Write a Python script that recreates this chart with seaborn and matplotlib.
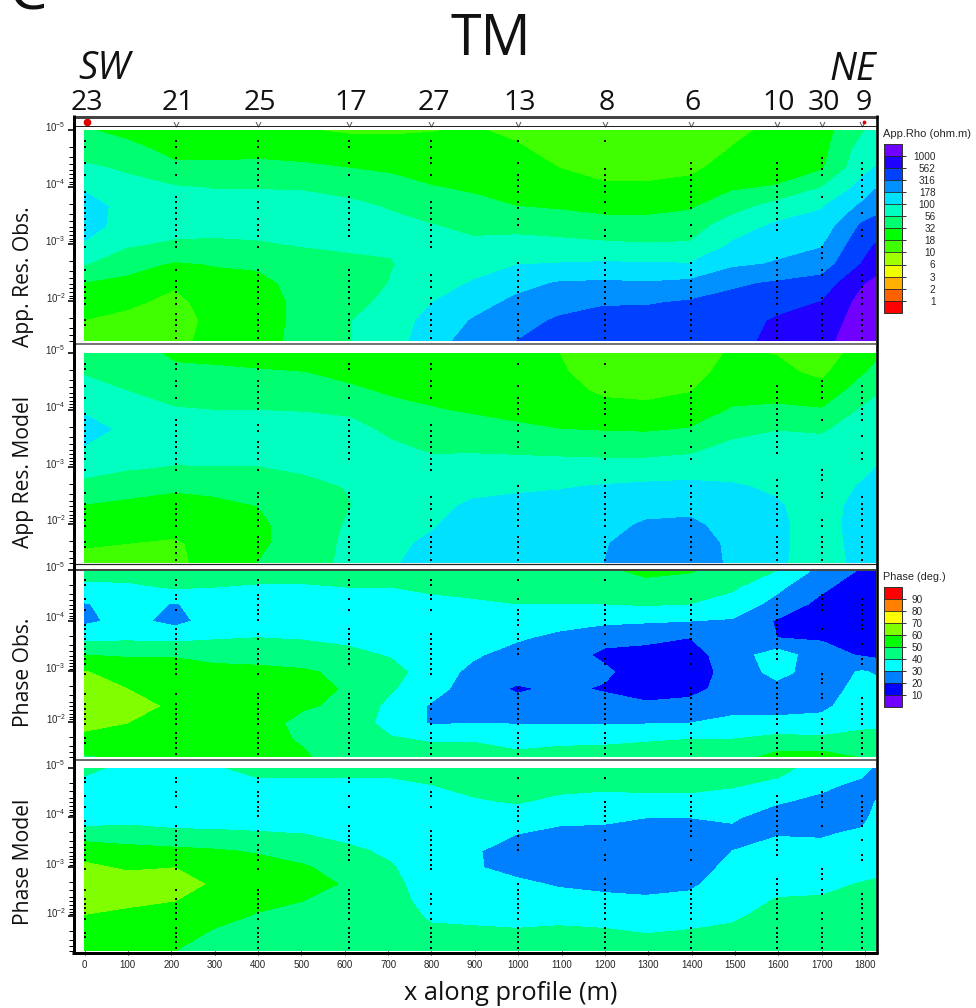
import numpy as np
import pandas as pd
import matplotlib
matplotlib.use("Agg")
import matplotlib.pyplot as plt
import seaborn as sns
from matplotlib.lines import Line2D
from matplotlib.path import Path
from matplotlib.transforms import ScaledTranslation

# ---------- data ----------
PROFILE_X = [0, 98, 209, 299, 400, 506, 610, 707, 801, 896, 997, 1094, 1198, 1295, 1396, 1493, 1597, 1700, 1793, 1823]
LOG_PERIOD = [-5, -4.66, -4.33, -3.99, -3.66, -3.32, -2.98, -2.65, -2.31, -1.97, -1.65, -1.3]

# log10(apparent resistivity), one list per PROFILE_X column
rho_obs = [
 [1.52,1.65,1.79,1.97,2.1,2.1,1.97,1.76,1.48,1.37,1.24,1.15],
 [1.42,1.58,1.72,1.82,1.92,1.9,1.77,1.59,1.43,1.28,1.2,1.12],
 [1.3,1.42,1.55,1.77,1.87,1.85,1.7,1.47,1.27,1.2,1.17,1.2],
 [1.3,1.42,1.55,1.74,1.85,1.84,1.69,1.51,1.42,1.33,1.3,1.31],
 [1.3,1.42,1.57,1.74,1.84,1.83,1.72,1.54,1.42,1.4,1.42,1.44],
 [1.26,1.38,1.55,1.73,1.84,1.83,1.76,1.65,1.6,1.56,1.55,1.55],
 [1.22,1.36,1.5,1.68,1.8,1.85,1.78,1.7,1.62,1.64,1.74,1.74],
 [1.22,1.34,1.46,1.6,1.73,1.81,1.77,1.74,1.76,1.84,1.88,1.9],
 [1.24,1.32,1.41,1.51,1.62,1.76,1.81,1.83,1.9,2.0,2.08,2.12],
 [1.27,1.33,1.4,1.47,1.56,1.69,1.8,1.9,2.02,2.15,2.27,2.38],
 [1.2,1.28,1.33,1.42,1.5,1.68,1.83,1.99,2.17,2.31,2.42,2.5],
 [1.12,1.17,1.25,1.36,1.47,1.64,1.82,2.01,2.27,2.42,2.53,2.6],
 [1.08,1.12,1.18,1.28,1.42,1.6,1.79,2.03,2.29,2.48,2.59,2.68],
 [1.08,1.12,1.18,1.28,1.42,1.59,1.77,2.02,2.27,2.48,2.6,2.68],
 [1.1,1.14,1.21,1.31,1.47,1.62,1.78,2.01,2.31,2.53,2.62,2.68],
 [1.2,1.26,1.33,1.47,1.64,1.88,2.03,2.2,2.46,2.58,2.64,2.66],
 [1.3,1.33,1.38,1.52,1.85,2.04,2.17,2.27,2.53,2.67,2.78,2.82],
 [1.4,1.42,1.47,1.75,1.98,2.1,2.23,2.37,2.6,2.76,2.85,2.92],
 [1.72,1.85,1.93,2.08,2.3,2.54,2.67,2.76,2.98,3.08,3.12,3.15],
 [1.8,1.9,2.01,2.23,2.4,2.6,2.76,2.88,3.05,3.15,3.2,3.2],
]
rho_model = [
 [1.57,1.73,1.84,1.97,2.1,1.98,1.83,1.68,1.48,1.37,1.27,1.18],
 [1.62,1.69,1.75,1.88,1.94,1.87,1.77,1.6,1.44,1.33,1.25,1.17],
 [1.45,1.55,1.65,1.77,1.85,1.85,1.73,1.54,1.4,1.3,1.23,1.22],
 [1.43,1.54,1.64,1.75,1.85,1.84,1.74,1.56,1.44,1.37,1.31,1.3],
 [1.4,1.52,1.63,1.75,1.84,1.83,1.74,1.6,1.5,1.47,1.48,1.5],
 [1.36,1.5,1.62,1.74,1.84,1.84,1.78,1.69,1.63,1.57,1.55,1.55],
 [1.32,1.42,1.55,1.71,1.82,1.84,1.8,1.76,1.74,1.78,1.82,1.85],
 [1.3,1.37,1.46,1.59,1.7,1.79,1.83,1.84,1.87,1.91,1.95,1.97],
 [1.28,1.33,1.41,1.52,1.62,1.72,1.82,1.87,1.92,1.98,2.04,2.1],
 [1.27,1.32,1.38,1.47,1.6,1.72,1.83,1.91,2.05,2.1,2.15,2.18],
 [1.27,1.3,1.35,1.41,1.55,1.7,1.84,1.96,2.07,2.14,2.18,2.2],
 [1.25,1.28,1.33,1.39,1.5,1.68,1.84,1.98,2.09,2.17,2.22,2.24],
 [1.1,1.14,1.21,1.33,1.48,1.67,1.83,2.02,2.11,2.18,2.23,2.25],
 [1.05,1.09,1.18,1.32,1.47,1.66,1.84,2.05,2.17,2.28,2.37,2.4],
 [1.12,1.16,1.24,1.36,1.51,1.69,1.88,2.06,2.18,2.3,2.37,2.42],
 [1.28,1.34,1.4,1.52,1.66,1.82,1.92,2.02,2.1,2.16,2.2,2.2],
 [1.24,1.3,1.4,1.55,1.74,1.84,1.92,1.97,2.02,2.04,2.04,2.03],
 [1.13,1.2,1.33,1.52,1.72,1.83,1.87,1.89,1.9,1.9,1.9,1.9],
 [1.35,1.47,1.62,1.78,1.85,1.9,1.95,2.02,2.08,2.1,2.08,2.06],
 [1.45,1.55,1.72,1.82,1.87,1.94,2.0,2.08,2.12,2.14,2.12,2.1],
]
# phase in degrees, one list per PROFILE_X column
phase_obs = [
 [44,38,29.5,28,37,50,60.5,64,65,63,57,49],
 [45,38,33,33,38,49,56,60,64,60,55,51],
 [44,41,29.5,27,37,49,55,59,58,56,54,52],
 [44,40,34,34,39,47,53,55,55,55,54,52],
 [44,39,34,34,40,47,52,54,54,54,53,52],
 [44,39,35,35,39,46,51,53,51,47,49,51],
 [44,40,35,34,37,43,48,49,48,46,45,45],
 [44,40,35,34,37,39,44,41,37,36,41,45],
 [44,42,37,35,35,35,34,33,29,29,39,44],
 [44,42,39,35,33,31,28,26,26,30,39,45],
 [45,43,40,35,31,27,25,18.5,24,29.5,37,42],
 [45,43,40,33,28,25,24,22,23,29,38,43],
 [48,43,40,32,23,18,22,19,24,29,38,44],
 [53,46,41,31,22,17,14,15,22,29.5,39,45],
 [51,45,40,30,20,16,14.5,17,23,30,40,46],
 [46,41.5,36,29,26,25,24,24,26,33,40,46],
 [40,32,27,19,20,35,33,27,26,33,43,53],
 [27,22,17,14,19,24,25,26,28,33,42,54],
 [19,14,13,13,15,19,31,33,35,37,44,49],
 [16,12,12,12,14,18,29,34,36,38,43,46],
]
phase_model = [
 [42,38,35,34,45,56,62,65,64,59,55,53],
 [38,35,33,36,45,53,59,64,62,57,54,52],
 [38,35,33,34,43,52,60,63,60,56,53,50],
 [39,35,33,35,42,51,57,59,56,52,49,46],
 [43,38,34,35,41,49,54,55,52,49,47,46],
 [43,38,35,36,40,46,51,53,50,47,46,46],
 [43,38,35,35,37,42,46,49,48,46,45,45],
 [43,38,35,34,35,38,41,43,44,44,44,44],
 [44,40,35,33,32,32,33,34,36,39,42,44],
 [46,43,39,34,32,31,31,33,35,38,42,44],
 [47,44,41,35,30,26,27,32,35,38,41,44],
 [47,43,38,33,27,25,25,29,34,38,42,44],
 [47,42,37,32,27,24,24,27,33,37,41.5,44],
 [47,43,37,30,25,23,23,26,32,36,40,43],
 [47,43,37,30,26,24,25,28,33,37,41,44],
 [46,41,36,31,28,30,33,36,37,39,42,44],
 [43,38,31,26,29.5,33,35,38,40.5,43,44,44],
 [36,32,28,25,29,33,35,38,41,43,44,44],
 [33,28,25,27,32,35,37,40.5,43,44,45,45],
 [29,25,30,33,35,36,38,41,43,44,45,45],
]

STATION_NAMES = ["23", "21", "25", "17", "27", "13", "8", "6", "10", "30", "9"]
STATION_X = [0, 210, 400, 610, 800, 1000, 1200, 1398, 1596, 1700, 1792]
STATION_PERIODS = [
 [-4.80,-4.71,-4.42,-4.21,-3.92,-3.83,-3.73,-3.63,-3.54,-3.44,-3.34,-3.24,-3.14,-2.95,-2.54,-2.35,-2.25,-2.16,-2.06,-1.95,-1.67,-1.58],
 [-4.80,-4.71,-4.51,-4.42,-4.21,-3.83,-3.73,-3.63,-3.54,-3.44,-3.34,-3.24,-3.14,-3.04,-2.95,-2.54,-2.35,-2.25,-2.16,-2.06,-1.95,-1.77,-1.67,-1.58,-1.48,-1.36],
 [-4.80,-4.71,-4.51,-4.42,-4.31,-4.21,-4.12,-4.02,-3.73,-3.63,-3.44,-3.34,-3.24,-3.14,-2.95,-2.54,-2.46,-2.35,-2.25,-2.16,-2.06,-1.95,-1.77,-1.67,-1.58,-1.48,-1.36],
 [-4.80,-4.71,-4.42,-4.21,-3.83,-3.73,-3.63,-3.54,-3.44,-3.34,-3.24,-3.14,-2.54,-2.46,-2.35,-2.25,-2.16,-2.06,-1.95,-1.77,-1.67,-1.58,-1.48,-1.36],
 [-4.80,-4.71,-4.51,-4.42,-4.21,-3.73,-3.63,-3.54,-3.44,-3.34,-3.24,-3.14,-3.04,-2.95,-2.46,-2.35,-2.25,-2.06,-1.95,-1.77,-1.67,-1.58,-1.48,-1.36],
 [-4.80,-4.42,-4.21,-4.12,-4.02,-3.92,-3.73,-3.63,-3.44,-3.34,-2.66,-2.54,-2.46,-2.35,-2.25,-2.16,-2.06,-1.95,-1.77,-1.67,-1.58,-1.48,-1.36],
 [-4.80,-4.31,-4.21,-4.12,-4.02,-3.92,-3.73,-3.54,-3.24,-3.14,-2.76,-2.66,-2.54,-2.46,-2.35,-2.25,-2.16,-2.06,-1.95,-1.77,-1.67,-1.58,-1.48,-1.36],
 [-4.42,-4.31,-4.21,-4.12,-4.02,-3.92,-3.83,-3.73,-3.63,-3.34,-3.14,-2.66,-2.54,-2.46,-2.35,-2.25,-2.16,-2.06,-1.95,-1.77,-1.67,-1.58,-1.48,-1.36],
 [-4.42,-4.31,-4.21,-4.12,-4.02,-3.92,-3.83,-3.73,-3.63,-3.54,-3.44,-3.34,-3.24,-2.76,-2.66,-2.54,-2.46,-2.35,-2.25,-2.16,-2.06,-1.95,-1.77,-1.67,-1.58,-1.48,-1.36],
 [-4.51,-4.42,-4.31,-4.21,-3.83,-2.95,-2.85,-2.76,-2.54,-2.46,-2.06,-1.95,-1.77,-1.67,-1.58,-1.48,-1.36],
 [-4.42,-4.31,-4.21,-4.12,-4.02,-3.92,-3.83,-3.54,-3.24,-3.14,-2.46,-2.35,-2.25,-2.16,-2.06,-1.95,-1.77,-1.67,-1.58,-1.48,-1.36],
]

RHO_LEVELS = [-0.25, 0, 0.25, 0.5, 0.75, 1, 1.25, 1.5, 1.75, 2, 2.25, 2.5, 2.75, 3, 3.25]
RHO_LABELS = ["1", "2", "3", "6", "10", "18", "32", "56", "100", "178", "316", "562", "1000"]
RHO_COLORS = ["#ff0000", "#ff6000", "#ffb000", "#f0ff00", "#a0ff00", "#40ff00", "#00ff00",
              "#00ff70", "#00ffc0", "#00e0ff", "#0090ff", "#0040ff", "#2000ff", "#7000ff"]
PHASE_LEVELS = [0, 10, 20, 30, 40, 50, 60, 70, 80, 90, 100]
PHASE_LABELS = ["10", "20", "30", "40", "50", "60", "70", "80", "90"]
PHASE_COLORS = ["#7000ff", "#0000ff", "#0080ff", "#00ffff", "#00ff80", "#00ff00", "#80ff00",
                "#ffff00", "#ff8000", "#ff0000"]
PANEL_LABELS = ["App. Res. Obs.", "App Res. Model", "Phase Obs.", "Phase Model"]
X_TICKS = list(range(0, 1900, 100))

# ---------- style ----------
sns.set_style("white")
plt.rcParams["font.family"] = ["Open Sans", "DejaVu Sans"]
plt.rcParams["mathtext.fontset"] = "custom"
plt.rcParams["mathtext.rm"] = "Liberation Sans"
plt.rcParams["mathtext.default"] = "rm"

W, H = 976, 1008
DPI = 100
fig = plt.figure(figsize=(W / DPI, H / DPI), dpi=DPI, facecolor="white")
PX = 72 / DPI


def rect(l, t, r, b):
    return [l / W, 1 - b / H, (r - l) / W, (b - t) / H]


def fig_line(x0, y0, x1, y1, color="k", lw=1.0):
    fig.add_artist(Line2D([x0 / W, x1 / W], [1 - y0 / H, 1 - y1 / H], color=color,
                          lw=lw * PX, solid_capstyle="butt", transform=fig.transFigure))


def fig_text(x, y, s, **kw):
    fig.text(x / W, 1 - y / H, s, **kw)


X_SCALE = 0.4337
XLIM = ((75 - 84.5) / X_SCALE, (876 - 84.5) / X_SCALE)
AX_SPANS = [(130, 341), (353, 563.3), (570, 757), (767.7, 951)]
LABEL_CENTERS = [277, 472, 672, 862]

points = pd.DataFrame(
    [(x, t) for x, ts in zip(STATION_X, STATION_PERIODS) for t in ts],
    columns=["x", "log_period"],
)

minor = [n + np.log10(k) for n in (-5, -4, -3, -2) for k in range(2, 10)]
minor = [m for m in minor if m <= -1.3]

panels = [
    (rho_obs, RHO_LEVELS, RHO_COLORS),
    (rho_model, RHO_LEVELS, RHO_COLORS),
    (phase_obs, PHASE_LEVELS, PHASE_COLORS),
    (phase_model, PHASE_LEVELS, PHASE_COLORS),
]
sets = []
for i, ((grid, levels, colors), (top, bot)) in enumerate(zip(panels, AX_SPANS)):
    ax = fig.add_axes(rect(75, top, 876, bot))
    z = np.array(grid, dtype=float).T
    cs = ax.contourf(PROFILE_X, LOG_PERIOD, z, levels=levels, colors=colors, antialiased=False)
    sets.append(cs)
    sns.scatterplot(data=points, x="x", y="log_period", ax=ax, color="black", s=1.1,
                    marker="s", linewidth=0, legend=False, zorder=3)
    ax.set_xlim(*XLIM)
    ax.set_ylim(-1.3, -5)
    for s in ax.spines.values():
        s.set_visible(False)
    ax.set_xlabel("")
    ax.set_ylabel("")
    ax.set_yticks([-5, -4, -3, -2])
    ax.set_yticklabels([r"$10^{-%d}$" % n for n in (5, 4, 3, 2)], fontsize=7,
                       family="Liberation Sans")
    ax.set_yticks(minor, minor=True)
    ax.tick_params(axis="y", which="major", left=True, length=7 * PX, width=1.6 * PX, color="k", pad=1.5)
    ax.tick_params(axis="y", which="minor", left=True, length=6 * PX, width=1.0 * PX, color="k")
    offset = ScaledTranslation(0, 4 / DPI, fig.dpi_scale_trans)
    for lab in ax.get_yticklabels():
        lab.set_transform(lab.get_transform() + offset)
    if i == 3:
        ax.set_xticks(X_TICKS)
        ax.set_xticklabels([str(v) for v in X_TICKS], fontsize=7, family="Liberation Sans")
        ax.tick_params(axis="x", bottom=True, length=4 * PX, width=1.0 * PX, color="k", pad=3.5)
    else:
        ax.set_xticks([])
    fig_text(24, LABEL_CENTERS[i], PANEL_LABELS[i], rotation=90, ha="center", va="center",
             fontsize=15.2, color="#111111")

# station strip above the first panel
strip = fig.add_axes(rect(75, 118, 876, 126))
strip.set_xlim(*XLIM)
strip.set_ylim(0, 1)
strip.axis("off")
chevron = Path([(-1, 1), (0, -1), (1, 1)], [Path.MOVETO, Path.LINETO, Path.LINETO])
strip.plot(STATION_X[1:], [0.3] * (len(STATION_X) - 1), ls="", marker=chevron, mfc="none",
           mec="#555555", mew=0.7, ms=3.6, clip_on=False)
strip.scatter([STATION_X[0] + 6], [0.55], s=20, color="#dd0000", clip_on=False, zorder=4)
strip.scatter([STATION_X[-1] + 6], [0.55], s=3, color="#dd0000", clip_on=False, zorder=4)

# frame
fig_line(75, 116.5, 878, 116.5, "#444444", 3)
fig_line(75, 126, 876, 126, "#222222", 1)
fig_line(75, 344, 876, 344, "#555555", 1.6)
fig_line(75, 563.7, 876, 563.7, "#222222", 1.2)
fig_line(75, 569.7, 876, 569.7, "#444444", 2)
fig_line(75, 759.7, 876, 759.7, "#444444", 1.6)
fig_line(74, 115, 74, 954, "k", 3)
fig_line(877, 115, 877, 954, "k", 2.6)
fig_line(72, 952.5, 878, 952.5, "k", 3)

# colour bars
for cs, (top, bot), labels, levels, pad_px, ttl, ttl_y, ttl_size in [
    (sets[0], (144, 312.7), RHO_LABELS, RHO_LEVELS, 30, "App.Rho (ohm.m)", 134, 8),
    (sets[2], (586.7, 706.7), PHASE_LABELS, PHASE_LEVELS, 17, "Phase (deg.)", 577, 7.8),
]:
    cax = fig.add_axes(rect(883.5, top, 901.5, bot))
    cb = fig.colorbar(cs, cax=cax, ticks=levels[1:-1], drawedges=True)
    cb.ax.set_yticklabels(labels, fontsize=7.2, family="Liberation Sans", ha="right")
    cb.ax.tick_params(axis="y", length=4 * PX, width=0.8 * PX, pad=pad_px * PX, color="k", right=True)
    cb.outline.set_edgecolor("#333333")
    cb.outline.set_linewidth(1 * PX)
    cb.dividers.set_color("#222222")
    cb.dividers.set_linewidth(0.8 * PX)
    fig_text(883, ttl_y, ttl, fontsize=ttl_size, family="Liberation Sans", ha="left", va="center")

# titles and annotations
fig_text(490.5, 55, "TM", fontsize=40, ha="center", va="baseline", color="#111111")
fig_text(104.5, 79, "SW", fontsize=27.5, style="italic", ha="center", va="baseline", color="#111111")
fig_text(853, 80, "NE", fontsize=27.5, style="italic", ha="center", va="baseline", color="#111111")
fig_text(28, 9, "C", fontsize=44, ha="center", va="baseline", color="#111111")
for name, x in zip(STATION_NAMES, STATION_X):
    fig_text(84.5 + 2 + x * X_SCALE, 110, name, fontsize=20.5, ha="center", va="baseline", color="#111111")
fig_text(511, 1000.5, "x along profile (m)", fontsize=18.3, ha="center", va="baseline", color="#111111")

fig.savefig("out.png", dpi=DPI, facecolor="white")
